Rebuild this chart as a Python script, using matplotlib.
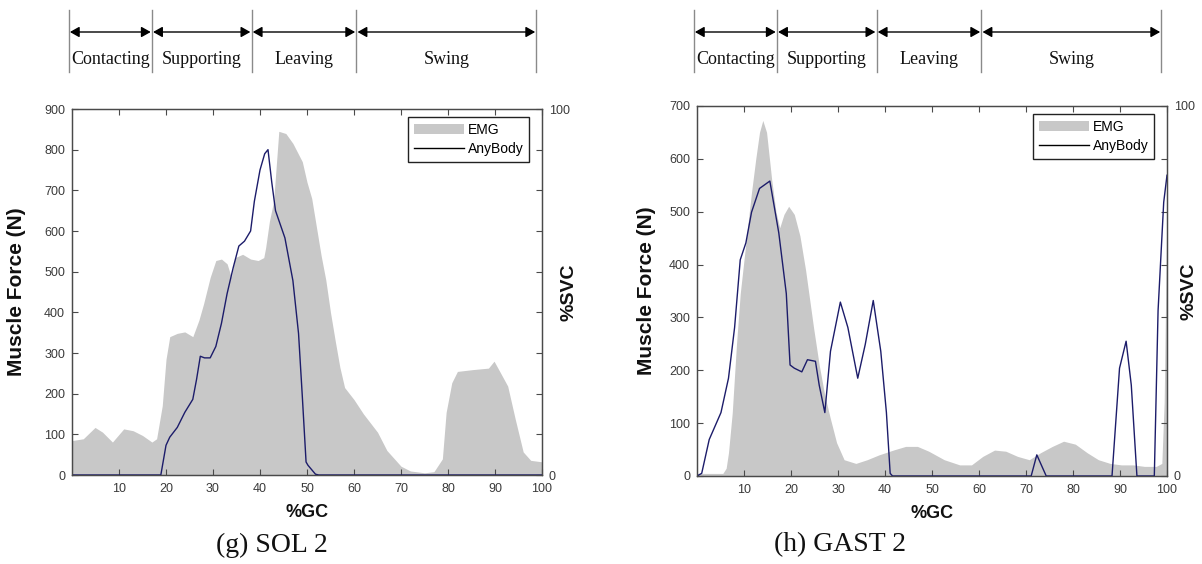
import numpy as np
import matplotlib
matplotlib.use("Agg")
import matplotlib.pyplot as plt
from matplotlib import font_manager
from matplotlib.transforms import blended_transform_factory
from matplotlib.patches import Patch, FancyArrowPatch
from matplotlib.lines import Line2D

_names = {f.name for f in font_manager.fontManager.ttflist}
SANS = "Liberation Sans" if "Liberation Sans" in _names else "DejaVu Sans"
SERIF = "Liberation Serif" if "Liberation Serif" in _names else "DejaVu Serif"

# ---------------- data ----------------
gait_phases = ["Contacting", "Supporting", "Leaving", "Swing"]
phase_bounds = [-0.7, 17.0, 38.2, 60.5, 98.8]   # %GC

x_ticks = [10, 20, 30, 40, 50, 60, 70, 80, 90, 100]

# (g) SOL 2
sol_emg_x = [0, 2.4, 4.9, 6.5, 8.6, 11, 13, 15, 17, 18, 19.2, 20, 20.8, 22.4, 24,
             25.7, 27, 28, 29.4, 30.6, 31.8, 33, 33.9, 34.7, 36.3, 38, 39.6, 40.8,
             41.2, 42, 42.9, 44, 45.5, 47, 49, 50, 51, 52, 53, 54, 55, 56, 57, 58,
             60, 62, 65, 67, 70, 72, 75, 77, 78.8, 79.6, 80.8, 82, 85.3, 88.6, 89.8,
             91, 92.7, 94.3, 96, 97.6, 100]
sol_emg_svc = [9.4, 9.9, 13.0, 11.7, 9.0, 12.6, 12.1, 10.8, 9.0, 9.9, 18.9, 31.6, 37.8,
               38.7, 39.1, 37.8, 42.3, 46.8, 54.0, 58.6, 59.0, 57.7, 54.0, 59.4, 60.3,
               59.0, 58.6, 59.4, 62.1, 69.3, 74.8, 93.9, 93.3, 90.6, 85.6, 80.0, 75.6,
               67.8, 60.0, 53.3, 44.4, 36.7, 29.4, 23.9, 20.6, 16.7, 11.7, 6.7, 2.4,
               1.1, 0.6, 0.9, 4.4, 17.1, 25.2, 28.3, 28.8, 29.2, 31.1, 28.3, 24.3,
               15.3, 6.3, 4.0, 3.6]
sol_any_x = [0, 18.9, 20, 20.8, 22.4, 24, 25.7, 26.5, 27.3, 28.2, 29.4, 30.6, 31.8, 33,
             34.3, 35.5, 36.7, 38, 38.8, 40, 41, 41.7, 42.5, 43.3, 45.3, 47, 48.2, 49,
             49.8, 50.2, 51.8, 52.5, 100]
sol_any_n = [0, 0, 73, 93, 117, 154, 186, 235, 292, 288, 288, 316, 373, 446, 510, 563,
             575, 600, 673, 750, 790, 800, 720, 650, 583, 478, 348, 194, 32, 24, 2, 0, 0]

# (h) GAST 2
gast_emg_x = [0, 5.5, 6.2, 6.7, 7.5, 8.4, 9.2, 10.4, 11.6, 12.5, 13.3, 14, 14.8, 15.9,
              16.8, 17.6, 18.5, 19.5, 20.7, 21.9, 23.1, 24.8, 26, 27.2, 28.4, 29.7,
              31.3, 33.8, 36.2, 38.7, 42, 44.4, 46.9, 49.3, 52.6, 55.9, 58.4, 60.8,
              63.3, 65.7, 68.2, 70.7, 73.1, 75.6, 78, 80.5, 83, 85.4, 87.9, 90.3, 92.8,
              95.2, 97.7, 98.9, 99.4, 100]
gast_emg_svc = [0.7, 0.7, 2.1, 6.3, 17.1, 35.6, 49.3, 63.0, 76.7, 85.7, 92.9, 96.1,
                92.9, 80.0, 71.4, 67.1, 70.7, 72.9, 70.7, 64.9, 55.7, 40.1, 30.0, 21.7,
                15.4, 9.0, 4.4, 3.4, 4.4, 5.7, 7.1, 8.0, 8.0, 6.7, 4.4, 3.0, 3.0, 5.3,
                7.0, 6.7, 5.3, 4.4, 6.3, 8.0, 9.4, 8.6, 6.3, 4.4, 3.4, 3.0, 3.0, 2.6,
                2.6, 3.4, 20.0, 74.3]
gast_any_x = [0, 1, 2.6, 5.1, 6.7, 8, 9.2, 10.4, 11.6, 13.3, 15.5, 17.4, 19, 19.8, 20.7,
              22.3, 23.5, 25.2, 26, 27.2, 28.4, 30.5, 32.1, 34.2, 35.8, 37.5, 39.1,
              40.3, 41.1, 41.6, 71.1, 72.3, 74.3, 88.3, 89.9, 91.3, 92.4, 93.6, 97.3,
              98.1, 99.3, 100]
gast_any_n = [0, 5, 69, 120, 185, 281, 409, 441, 499, 544, 558, 460, 345, 210, 204, 197,
              220, 217, 172, 120, 236, 329, 281, 185, 249, 332, 236, 120, 5, 0, 0, 40, 0,
              0, 204, 255, 172, 0, 0, 313, 518, 569]

# ---------------- style ----------------
W, H = 1202, 564
GRAY = "#c8c8c8"
LINE = "#1c1c6a"
SPINE = "#4a4a4a"
TICKC = "#3a3a3a"

fig = plt.figure(figsize=(W / 100, H / 100), dpi=100)
fig.patch.set_facecolor("white")


def px_rect(l, t, r, b):
    return [l / W, 1 - b / H, (r - l) / W, (b - t) / H]


panels = [
    dict(rect=(72, 109, 542, 475), ymax=900, ex=sol_emg_x, ey=sol_emg_svc,
         ax_=sol_any_x, ay=sol_any_n, cap="(g) SOL 2", cap_x=272,
         ylab_edge=26, svc_edge=560),
    dict(rect=(697, 106, 1167, 476), ymax=700, ex=gast_emg_x, ey=gast_emg_svc,
         ax_=gast_any_x, ay=gast_any_n, cap="(h) GAST 2", cap_x=840,
         ylab_edge=656, svc_edge=1181),
]

for p in panels:
    l, t, r, b = p["rect"]
    wpx, hpx = r - l, b - t
    ax = fig.add_axes(px_rect(*p["rect"]))
    ax2 = ax.twinx()

    ax2.fill_between(p["ex"], 0, p["ey"], color=GRAY, lw=0)
    ax2.set_ylim(0, 100)
    ax.plot(p["ax_"], p["ay"], color=LINE, lw=1.0)
    ax.set_zorder(ax2.get_zorder() + 1)
    ax.patch.set_visible(False)

    ax.set_xlim(0, 100)
    ax.set_ylim(0, p["ymax"])
    ax.set_xticks(x_ticks)
    ax.set_yticks(range(0, p["ymax"] + 1, 100))
    nint = p["ymax"] // 100
    rt = np.linspace(0, 100, nint + 1)
    ax2.set_yticks(rt)
    ax2.set_yticklabels(["0"] + [""] * (nint - 1) + ["100"])

    for a in (ax, ax2):
        for s in a.spines.values():
            s.set_color(SPINE)
            s.set_linewidth(0.9)
        a.tick_params(direction="in", length=4, width=0.8, color=SPINE,
                      labelsize=9, labelcolor=TICKC)
        for lab in a.get_xticklabels() + a.get_yticklabels():
            lab.set_family(SANS)
    ax.tick_params(axis="x", top=True, pad=6)
    ax.tick_params(axis="y", pad=5)
    ax2.tick_params(axis="y", pad=5)

    ax.set_ylabel("Muscle Force (N)", fontsize=15, fontweight="bold", family=SANS,
                  color="#111111")
    ax.yaxis.set_label_coords(-(l - p["ylab_edge"]) / wpx, 0.5)
    ax2.set_ylabel("%SVC", fontsize=14, fontweight="bold", family=SANS,
                   color="#111111", rotation=90)
    ax2.yaxis.set_label_coords((p["svc_edge"] - l) / wpx, 0.5)
    ax.set_xlabel("%GC", fontsize=13, fontweight="bold", family=SANS, color="#111111")
    ax.xaxis.set_label_coords(0.5, -29 / hpx)

    handles = [Patch(facecolor=GRAY, edgecolor="none"),
               Line2D([], [], color="black", lw=1.0)]
    leg = ax.legend(handles, ["EMG", "AnyBody"], loc="upper right",
                    bbox_to_anchor=(1 - 13 / wpx, 1 - 8 / hpx), borderaxespad=0,
                    handlelength=3.6, handletextpad=0.3,
                    borderpad=0.4, labelspacing=0.4, fancybox=False,
                    framealpha=1, prop={"family": SANS, "size": 10})
    leg.get_frame().set_edgecolor("#222222")
    leg.get_frame().set_linewidth(1.0)

    # gait phase header
    trans = blended_transform_factory(ax.transData, fig.transFigure)
    y_top, y_bot = 1 - 10 / H, 1 - 72 / H
    y_arr = 1 - 32 / H
    y_txt = 1 - 60 / H
    for bnd in phase_bounds:
        fig.add_artist(Line2D([bnd, bnd], [y_bot, y_top], transform=trans,
                              color="#8a8a8a", lw=1.0))
    for i, name in enumerate(gait_phases):
        a0, a1 = phase_bounds[i] + 0.25, phase_bounds[i + 1] - 0.25
        fig.add_artist(FancyArrowPatch((a0, y_arr), (a1, y_arr), transform=trans,
                                       arrowstyle="<|-|>,head_length=0.8,head_width=0.45",
                                       mutation_scale=7, lw=1.0, color="black",
                                       shrinkA=0, shrinkB=0))
        fig.text((phase_bounds[i] + phase_bounds[i + 1]) / 2, y_txt, name,
                 transform=trans, ha="center", va="center", fontsize=13,
                 family=SERIF, color="#111111")

    fig.text(p["cap_x"] / W, 1 - 545 / H, p["cap"], ha="center", va="center",
             fontsize=20, family=SERIF, color="#111111")

fig.savefig("out.png", dpi=100, facecolor="white")
